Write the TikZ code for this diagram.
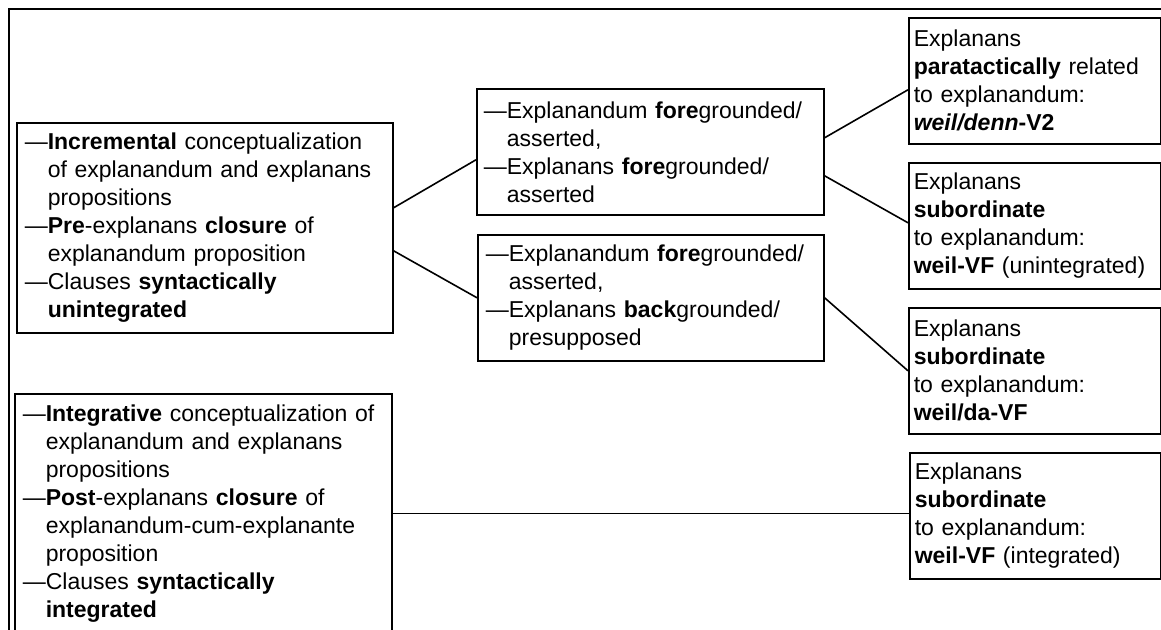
\documentclass[tikz,border=0pt]{standalone}
\usepackage{fontspec}
\setmainfont{Liberation Sans}
\newcommand\ind{\hphantom{—}}
\begin{document}
\begin{tikzpicture}[x=0.5pt,y=-0.5pt, line width=0.8pt,
  box/.style={draw, anchor=north west, align=left, inner ysep=0pt,
    font=\fontsize{11.5}{14}\selectfont},
  link/.style={draw, line width=0.8pt}]
\useasboundingbox (0,0) rectangle (1161,630);
\clip (0,0) rectangle (1161,630);
% outer frame
\draw (9,640) -- (9,9) -- (1170,9);
% left boxes
\node[box, inner xsep=4pt, text width=180pt, minimum height=105pt] (A) at (16,122)
 {—\textbf{Incremental} conceptualization\\
  \ind of explanandum and explanans\\
  \ind propositions\\
  —\textbf{Pre}-explanans \textbf{closure} of\\
  \ind explanandum proposition\\
  —Clauses \textbf{syntactically}\\
  \ind\textbf{unintegrated}};
\node[box, inner xsep=4pt, text width=180.5pt, minimum height=119.5pt] (B) at (14,393)
 {—\textbf{Integrative} conceptualization of\\
  \ind explanandum and explanans\\
  \ind propositions\\
  —\textbf{Post}-explanans \textbf{closure} of\\
  \ind explanandum-cum-explanante\\
  \ind proposition\\
  —Clauses \textbf{syntactically}\\
  \ind\textbf{integrated}};
% middle boxes
\node[box, inner xsep=3.5pt, text width=166.5pt, minimum height=63pt] (C) at (476,88)
 {—Explanandum \textbf{fore}grounded/\\
  \ind asserted,\\
  —Explanans \textbf{fore}grounded/\\
  \ind asserted};
\node[box, inner xsep=4pt, text width=165pt, minimum height=63pt] (D) at (477,234)
 {—Explanandum \textbf{fore}grounded/\\
  \ind asserted,\\
  —Explanans \textbf{back}grounded/\\
  \ind presupposed};
% right boxes
\node[box, inner xsep=2.5pt, text width=121pt, minimum height=63pt] (E) at (908,17)
 {Explanans\\
  \textbf{paratactically} related\\
  to explanandum:\\
  \textbf{\textit{weil/denn}-V2}};
\node[box, inner xsep=2.5pt, text width=121pt, minimum height=63pt] (F) at (908,162)
 {Explanans\\
  \textbf{subordinate}\\
  to explanandum:\\
  \textbf{weil-VF} (unintegrated)};
\node[box, inner xsep=2.5pt, text width=121pt, minimum height=63pt] (G) at (908,307)
 {Explanans\\
  \textbf{subordinate}\\
  to explanandum:\\
  \textbf{weil/da-VF}};
\node[box, inner xsep=2.5pt, text width=120.5pt, minimum height=63pt] (H) at (909,452)
 {Explanans\\
  \textbf{subordinate}\\
  to explanandum:\\
  \textbf{weil-VF} (integrated)};
% connectors
\draw[link] ([yshift=10pt]A.east) -- ([yshift=-4pt]C.west);
\draw[link] ([yshift=-11.5pt]A.east) -- (D.west);
\draw[link] ([yshift=7pt]C.east) -- ([yshift=-4.5pt]E.west);
\draw[link] ([yshift=-12pt]C.east) -- ([yshift=1.5pt]F.west);
\draw[link] (D.east) -- (G.west);
\draw[link] (B.east) -- (B.east -| H.west);
\end{tikzpicture}
\end{document}
